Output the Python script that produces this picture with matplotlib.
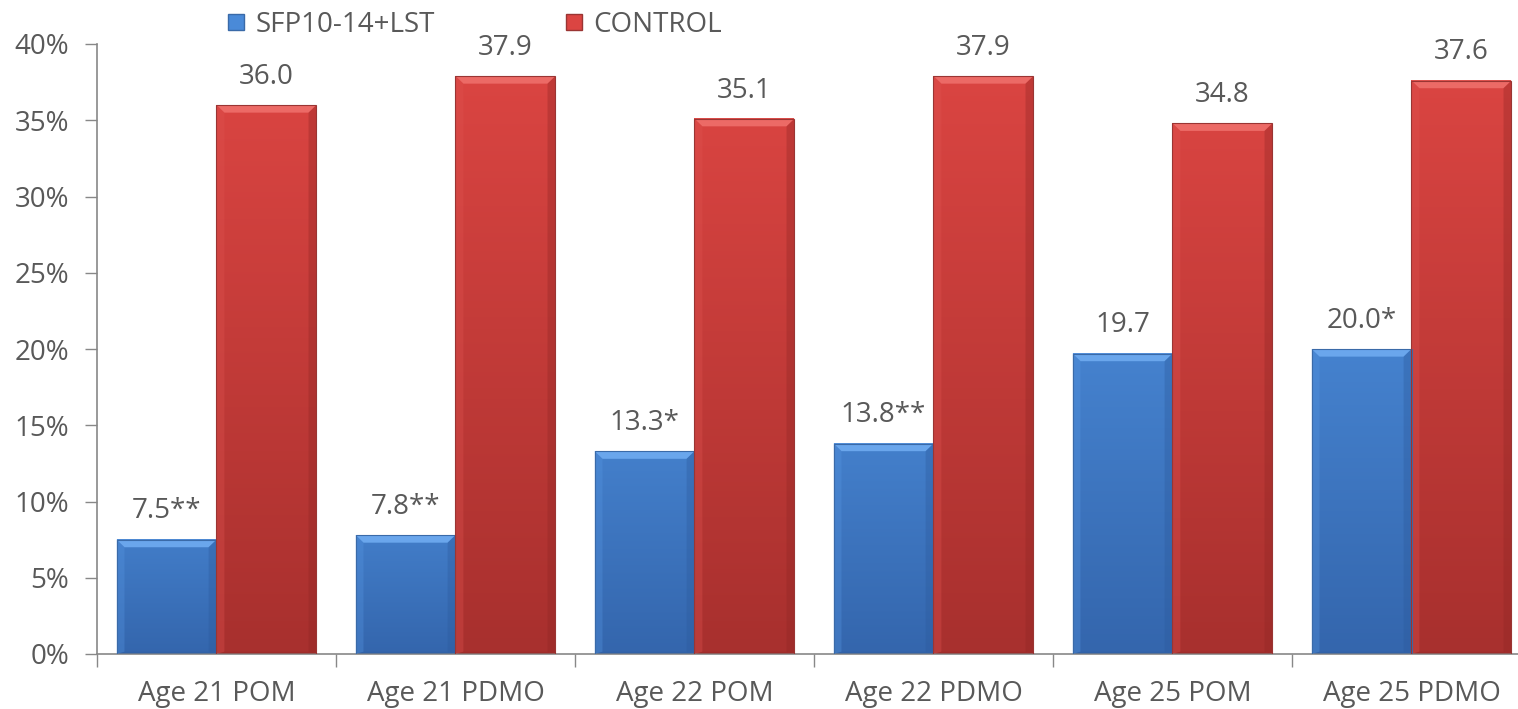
import matplotlib
matplotlib.use("Agg")
import matplotlib.pyplot as plt
import numpy as np
from matplotlib.colors import LinearSegmentedColormap
from matplotlib.patches import Polygon, Rectangle
from matplotlib.lines import Line2D
from matplotlib.ticker import FuncFormatter, MultipleLocator

categories = ["Age 21 POM", "Age 21 PDMO", "Age 22 POM", "Age 22 PDMO", "Age 25 POM", "Age 25 PDMO"]
treated = [7.5, 7.8, 13.3, 13.8, 19.7, 20.0]
control = [36.0, 37.9, 35.1, 37.9, 34.8, 37.6]
treated_labels = ["7.5**", "7.8**", "13.3*", "13.8**", "19.7", "20.0*"]
control_labels = ["36.0", "37.9", "35.1", "37.9", "34.8", "37.6"]
series_names = ["SFP10-14+LST", "CONTROL"]

plt.rcParams['font.family'] = ['Open Sans', 'DejaVu Sans']
TXT = "#595959"
AXC = "#888888"
FS = 20

fig = plt.figure(figsize=(15.18, 7.09), dpi=100)
ax = fig.add_axes([97 / 1518, 55 / 709, 1434 / 1518, 610 / 709])

width = 0.418
x = np.arange(len(categories))

palettes = {
    "blue": dict(top="#4a8ad8", bottom="#3466ad", bevel="#6aa6ec", left="#5594e0",
                 right="#2c5a9c", edge="#3a6aa8"),
    "red": dict(top="#db4542", bottom="#a8302e", bevel="#ec6a66", left="#de524f",
                right="#8f2624", edge="#9a3533"),
}


def bevel_bar(ax, bar, pal):
    x0, w, h = bar.get_x(), bar.get_width(), bar.get_height()
    x1 = x0 + w
    # vertical gradient body, darker toward the baseline
    cmap = LinearSegmentedColormap.from_list("g", [pal["bottom"], pal["top"]])
    grad = np.linspace(0, 1, 64).reshape(-1, 1)
    top_t = min(1.0, 0.55 + h / 40.0 * 0.45)
    ax.imshow(grad[::-1] * top_t, extent=[x0, x1, 0, h], aspect="auto",
              cmap=cmap, vmin=0, vmax=1, zorder=2, interpolation="bilinear")
    bx = 0.033
    by = 0.5
    # top bevel
    ax.add_patch(Polygon([[x0, h], [x1, h], [x1 - bx, h - by], [x0 + bx, h - by]],
                         closed=True, facecolor=pal["bevel"], edgecolor="none", zorder=3))
    # left bevel
    ax.add_patch(Polygon([[x0, h], [x0 + bx, h - by], [x0 + bx, by * 0.3], [x0, 0]],
                         closed=True, facecolor=pal["left"], alpha=0.35, edgecolor="none", zorder=3))
    # right bevel
    ax.add_patch(Polygon([[x1, h], [x1 - bx, h - by], [x1 - bx, by * 0.3], [x1, 0]],
                         closed=True, facecolor=pal["right"], alpha=0.35, edgecolor="none", zorder=3))
    # bottom bevel
    ax.add_patch(Polygon([[x0, 0], [x1, 0], [x1 - bx, by * 0.3], [x0 + bx, by * 0.3]],
                         closed=True, facecolor=pal["right"], alpha=0.3, edgecolor="none", zorder=3))
    ax.add_patch(Rectangle((x0, 0), w, h, facecolor="none", edgecolor=pal["edge"],
                           linewidth=0.8, zorder=4))


bars_t = ax.bar(x - width / 2, treated, width, color="none", label=series_names[0], zorder=1)
bars_c = ax.bar(x + width / 2, control, width, color="none", label=series_names[1], zorder=1)
for b in bars_t:
    bevel_bar(ax, b, palettes["blue"])
for b in bars_c:
    bevel_bar(ax, b, palettes["red"])

for bars, labels in ((bars_t, treated_labels), (bars_c, control_labels)):
    for b, lab in zip(bars, labels):
        ax.text(b.get_x() + b.get_width() / 2, b.get_height() + 1.85, lab,
                ha="center", va="center", fontsize=FS, color=TXT)

ax.set_xlim(-0.5, len(categories) - 0.5)
ax.set_ylim(0, 40)
ax.yaxis.set_major_locator(MultipleLocator(5))
ax.yaxis.set_major_formatter(FuncFormatter(lambda v, p: f"{v:.0f}%"))
ax.set_xticks(x)
ax.set_xticklabels(categories)
ax.set_xticks(np.arange(-0.5, len(categories)), minor=True)
ax.tick_params(axis="x", which="major", length=0, pad=19, labelsize=FS, labelcolor=TXT)
ax.tick_params(axis="x", which="minor", length=9, width=1, color=AXC)
ax.tick_params(axis="y", length=9, width=1, color=AXC, labelsize=FS, labelcolor=TXT, pad=11)

for s in ["top", "right"]:
    ax.spines[s].set_visible(False)
for s in ["left", "bottom"]:
    ax.spines[s].set_color(AXC)
    ax.spines[s].set_linewidth(1.2)

handles = [Line2D([], [], marker="s", linestyle="none", markersize=12,
                  markerfacecolor=palettes[k]["top"], markeredgecolor=palettes[k]["edge"])
           for k in ("blue", "red")]
fig.legend(handles, series_names, loc="center", bbox_to_anchor=(472 / 1518, 1 - 25 / 709),
           ncol=2, frameon=False, fontsize=FS, labelcolor=TXT, handletextpad=0.2,
           columnspacing=4.5, handlelength=1.0)

fig.savefig("out.png", dpi=100)
